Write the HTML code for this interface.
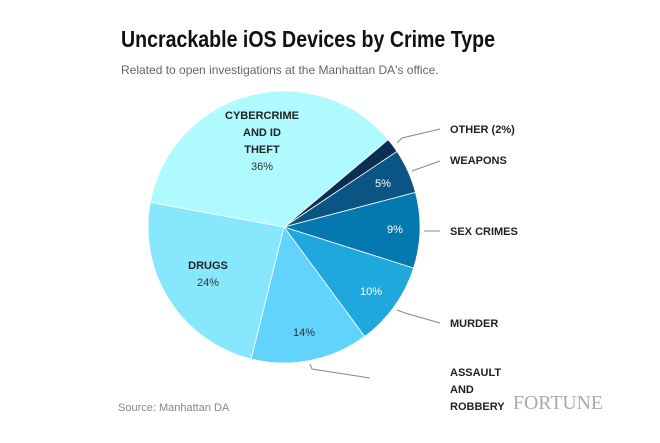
<!DOCTYPE html>
<html><head><style>
body{margin:0;background:#fff;width:660px;height:438px;overflow:hidden;font-family:"Liberation Sans",sans-serif}
</style></head><body>
<svg width="660" height="438" xmlns="http://www.w3.org/2000/svg" font-family="Liberation Sans, sans-serif">
<text x="121" y="47" font-size="23" font-weight="bold" fill="#111" textLength="374" lengthAdjust="spacingAndGlyphs">Uncrackable iOS Devices by Crime Type</text>
<text x="121" y="74" font-size="12" fill="#666">Related to open investigations at the Manhattan DA's office.</text>
<g stroke="#fff" stroke-width="0.8" transform="translate(284,227)">
<path d="M0 0 L104.2 -87.4 A136 136 0 0 1 113.0 -75.6 Z" fill="#0a2f52"/>
<path d="M0 0 L113.0 -75.6 A136 136 0 0 1 131.5 -34.6 Z" fill="#0b5585"/>
<path d="M0 0 L131.5 -34.6 A136 136 0 0 1 129.6 41.1 Z" fill="#0479b0"/>
<path d="M0 0 L129.6 41.1 A136 136 0 0 1 80.7 109.5 Z" fill="#1ea8de"/>
<path d="M0 0 L80.7 109.5 A136 136 0 0 1 -32.9 132.0 Z" fill="#62d3fc"/>
<path d="M0 0 L-32.9 132.0 A136 136 0 0 1 -133.7 -24.6 Z" fill="#87e7fd"/>
<path d="M0 0 L-133.7 -24.6 A136 136 0 0 1 104.2 -87.4 Z" fill="#aefafe"/>
</g>
<g stroke="#888" stroke-width="1" fill="none">
<polyline points="397,143 402,138 440,129"/>
<polyline points="412,171 440,161"/>
<polyline points="424,231 440,231"/>
<polyline points="397,310 405,313 440,323"/>
<polyline points="310,364 312,369 370,378"/>
</g>
<g font-size="11" font-weight="bold" fill="#222">
<text x="450" y="133">OTHER (2%)</text>
<text x="450" y="164">WEAPONS</text>
<text x="450" y="235">SEX CRIMES</text>
<text x="450" y="327">MURDER</text>
<text x="450" y="376">ASSAULT</text>
<text x="450" y="393">AND</text>
<text x="450" y="410">ROBBERY</text>
</g>
<g font-size="11" text-anchor="middle">
<text x="262" y="119" font-weight="bold" fill="#222">CYBERCRIME</text>
<text x="262" y="136" font-weight="bold" fill="#222">AND ID</text>
<text x="262" y="153" font-weight="bold" fill="#222">THEFT</text>
<text x="262" y="170" fill="#333">36%</text>
<text x="208" y="269" font-weight="bold" fill="#222">DRUGS</text>
<text x="208" y="286" fill="#333">24%</text>
<text x="304" y="336" fill="#333">14%</text>
<text x="371" y="295" fill="#fff">10%</text>
<text x="395" y="233" fill="#fff">9%</text>
<text x="383" y="187" fill="#fff">5%</text>
</g>
<text x="118" y="411" font-size="11" fill="#888">Source: Manhattan DA</text>
<text x="513" y="409" font-size="20" fill="#aaa" font-family="Liberation Serif, serif" textLength="90" lengthAdjust="spacingAndGlyphs">FORTUNE</text>
</svg>
</body></html>
